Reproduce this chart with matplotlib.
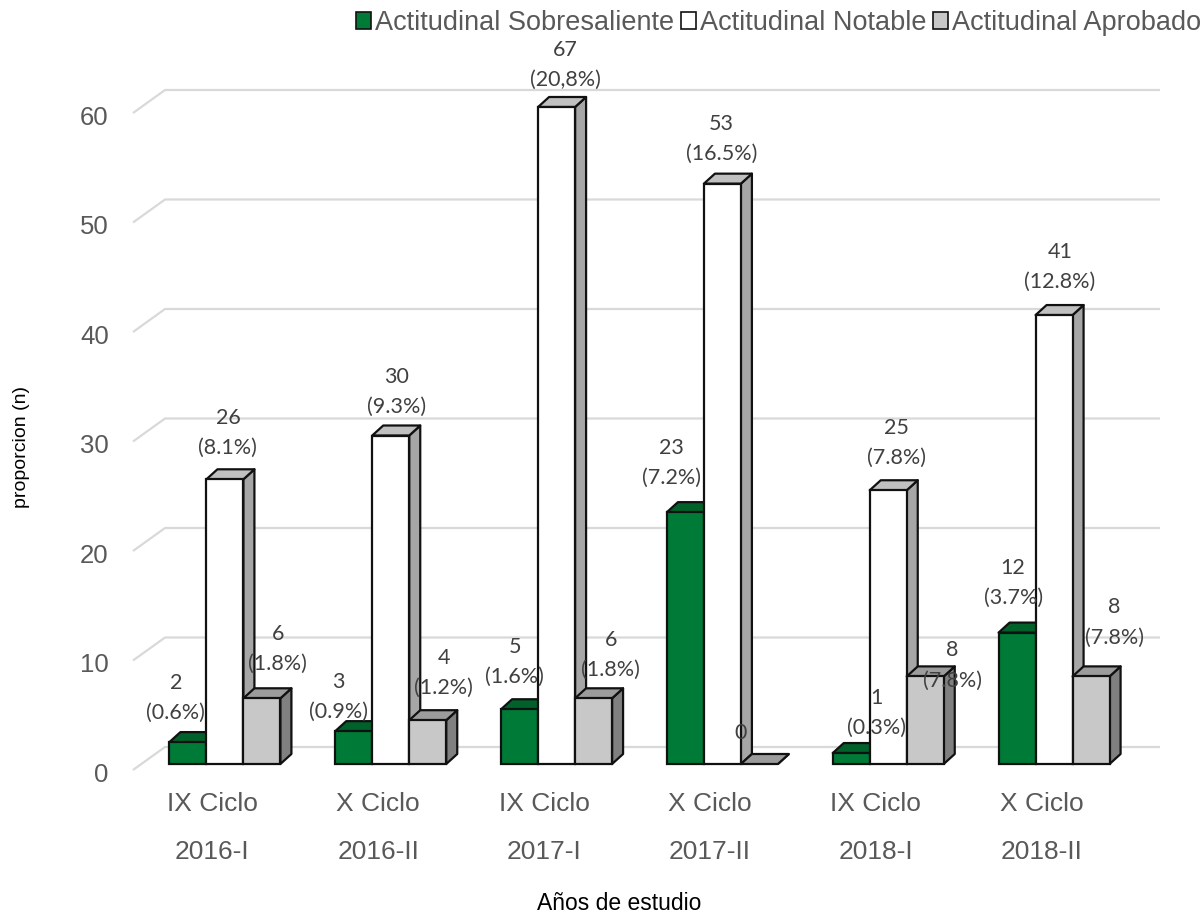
import numpy as np
import matplotlib
matplotlib.use("Agg")
import matplotlib.pyplot as plt
from matplotlib.patches import Polygon, Patch
from matplotlib.transforms import ScaledTranslation

# ---------------- data ----------------
ciclos = ["IX Ciclo", "X Ciclo", "IX Ciclo", "X Ciclo", "IX Ciclo", "X Ciclo"]
periodos = ["2016-I", "2016-II", "2017-I", "2017-II", "2018-I", "2018-II"]
series_names = ["Actitudinal Sobresaliente", "Actitudinal Notable", "Actitudinal Aprobado"]
sobresaliente = [2, 3, 5, 23, 1, 12]
notable = [26, 30, 67, 53, 25, 41]
aprobado = [6, 4, 6, 0, 8, 8]
pct_sobresaliente = ["(0.6%)", "(0.9%)", "(1.6%)", "(7.2%)", "(0.3%)", "(3.7%)"]
pct_notable = ["(8.1%)", "(9.3%)", "(20,8%)", "(16.5%)", "(7.8%)", "(12.8%)"]
pct_aprobado = ["(1.8%)", "(1.2%)", "(1.8%)", "", "(7.8%)", "(7.8%)"]
yticks = [0, 10, 20, 30, 40, 50, 60]

# ---------------- styling / layout ----------------
W, H, DPI = 1203, 915, 100
fig = plt.figure(figsize=(W / DPI, H / DPI), dpi=DPI)
ax_l, ax_r, ax_b, ax_t = 142, 1137, 764, 107
ax = fig.add_axes([ax_l / W, 1 - ax_b / H, (ax_r - ax_l) / W, (ax_b - ax_t) / H])
YMAX = 60
ax.set_xlim(-0.5, 5.5)
ax.set_ylim(0, YMAX)
for s in ax.spines.values():
    s.set_visible(False)

px_x = (ax_r - ax_l) / 6.0        # pixels per x unit
px_y = (ax_b - ax_t) / YMAX       # pixels per y unit

def dxu(p):
    return p / px_x

def dyu(p):
    return p / px_y

# back wall gridlines (pseudo 3D)
grid_c = "#d9d9d9"
for v in yticks:
    xs = [-0.5 + dxu(133 - ax_l), -0.5 + dxu(165 - ax_l), -0.5 + dxu(1160 - ax_l)]
    ys = [v - dyu(6), v + dyu(17), v + dyu(17)]
    ax.plot(xs, ys, color=grid_c, lw=1.6, clip_on=False, zorder=1, solid_capstyle="butt")

# y ticks
ax.set_yticks(yticks)
ax.set_yticklabels([str(v) for v in yticks])
ax.tick_params(axis="y", length=0, pad=24, labelsize=18.5, labelcolor="#595959")
for lab in ax.get_yticklabels():
    lab.set_fontfamily("Liberation Sans")
    lab.set_transform(lab.get_transform() + ScaledTranslation(0, -6 / 72, fig.dpi_scale_trans))

# x ticks
ax.set_xticks(np.arange(6))
ax.set_xticklabels([f"{c}\n{p}" for c, p in zip(ciclos, periodos)], linespacing=2.28)
ax.tick_params(axis="x", length=0, pad=20, labelsize=19, labelcolor="#595959")
for lab in ax.get_xticklabels():
    lab.set_fontfamily("Liberation Sans")
    lab.set_transform(lab.get_transform() + ScaledTranslation(-9 / 72, 0, fig.dpi_scale_trans))

# bars
bw = 37 / px_x
ddx, ddy = dxu(11), dyu(10)
front_cols = ["#007a37", "#ffffff", "#c8c8c8"]
top_cols = ["#00612a", "#c0c0c0", "#9c9c9c"]
side_cols = ["#005a26", "#a6a6a6", "#808080"]
offsets = [-bw, 0.0, bw]
vals_all = [sobresaliente, notable, aprobado]
pcts_all = [pct_sobresaliente, pct_notable, pct_aprobado]

# label nudges (pixels): dx from bar centre, dy above bar top
nudge_dx = [[-12, -15, -5, -14, 25, -4],
            [3, 6, 9, -1, 8, 6],
            [16, 16, 17, -19, 27, 23]]
nudge_dy = [[29, 19, 32, 34, 25, 35],
            [31, 29, 27, 30, 32, 33],
            [34, 32, 28, 31, -4, 39]]

ec = "#111111"
lw = 1.6
z = 3
lab_kw = dict(ha="center", va="center", fontsize=15.5, family="Lato",
              color="#404040", zorder=100, clip_on=False)
for i in range(6):
    for k in range(3):
        v = vals_all[k][i]
        h = min(v, YMAX)
        x0 = i + offsets[k] - bw / 2
        x1 = x0 + bw
        side = Polygon([(x1, 0), (x1 + ddx, ddy), (x1 + ddx, h + ddy), (x1, h)],
                       closed=True, facecolor=side_cols[k], edgecolor=ec, lw=lw,
                       zorder=z, clip_on=False, joinstyle="round")
        ax.add_patch(side)
        top = Polygon([(x0, h), (x0 + ddx, h + ddy), (x1 + ddx, h + ddy), (x1, h)],
                      closed=True, facecolor=top_cols[k], edgecolor=ec, lw=lw,
                      zorder=z + 0.1, clip_on=False, joinstyle="round")
        ax.add_patch(top)
        if h > 0:
            ax.bar(i + offsets[k], h, width=bw, color=front_cols[k], edgecolor=ec,
                   lw=lw, zorder=z + 0.2, clip_on=False)
        z += 1
        cx = i + offsets[k] + dxu(nudge_dx[k][i])
        yb = h + dyu(nudge_dy[k][i])
        pct = pcts_all[k][i]
        if pct:
            ax.text(cx, yb, pct, **lab_kw)
            ax.text(cx, yb + dyu(30), str(v), **lab_kw)
        else:
            ax.text(cx, yb, str(v), **lab_kw)

# axis titles
fig.text(22 / W, 1 - 447 / H, "proporcion (n)", rotation=90, ha="center", va="center",
         fontsize=14, family="Liberation Sans", color="#000000")
fig.text(619 / W, 1 - 903 / H, "Años de estudio", ha="center", va="center",
         fontsize=16.5, family="Liberation Sans", color="#000000")

# legend
handles = [Patch(facecolor=c, edgecolor=ec, lw=1.2) for c in front_cols]
leg = fig.legend(handles, series_names, loc="center right",
                 bbox_to_anchor=(1201 / W, 1 - 23 / H), ncol=3, frameon=False,
                 handlelength=0.55, handleheight=0.55, handletextpad=0.15,
                 columnspacing=0.25, borderaxespad=0, borderpad=0,
                 prop={"family": "Liberation Sans", "size": 19.5})
for t in leg.get_texts():
    t.set_color("#595959")

fig.savefig("out.png", dpi=DPI)
